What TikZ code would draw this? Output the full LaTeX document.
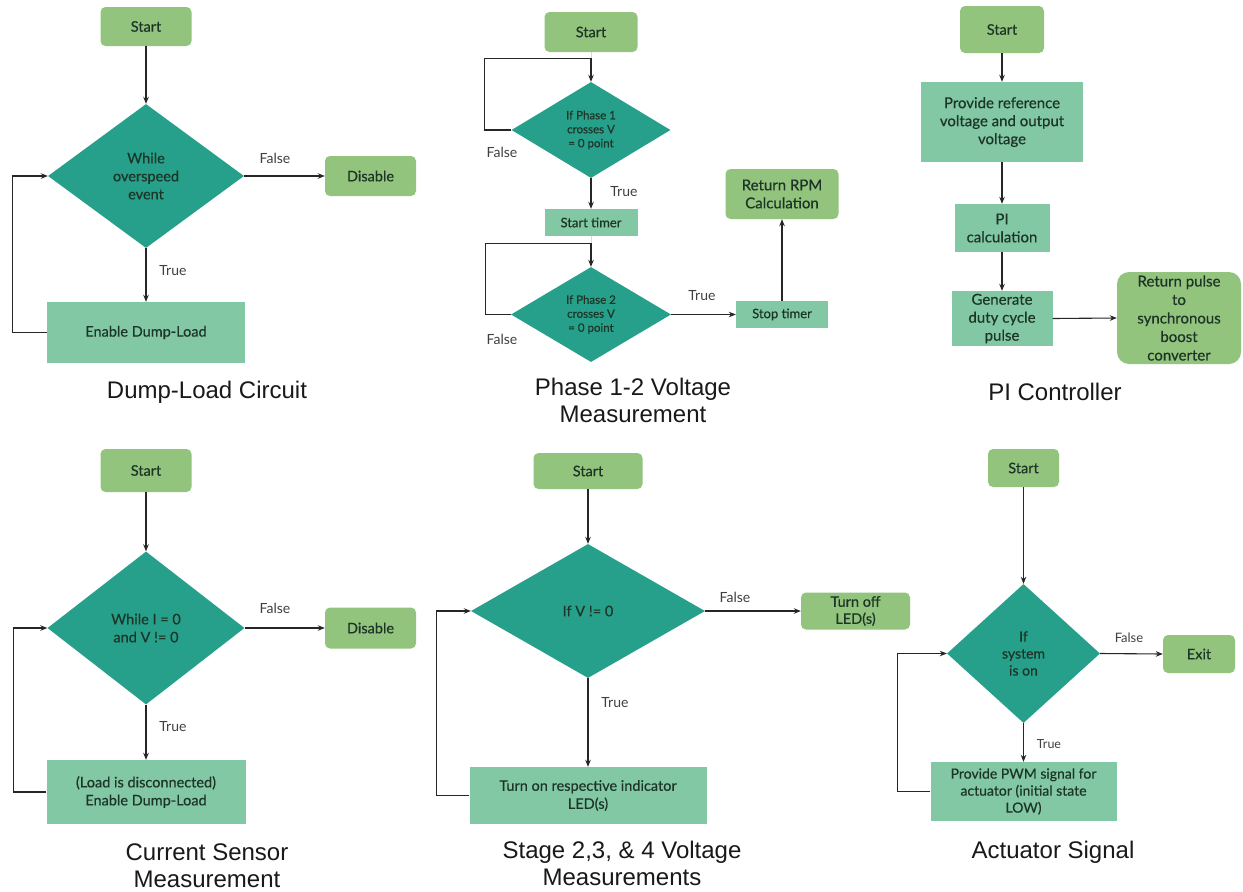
\documentclass[tikz,border=0pt]{standalone}
\usepackage{fontspec}
\setmainfont{Lato}
\newfontfamily\boxfont{Lato}[FakeBold=0.5]
\newfontfamily\titlefont{Liberation Sans}
\usetikzlibrary{shapes.geometric,arrows.meta,calc}
\definecolor{startgreen}{HTML}{93C47D}
\definecolor{decteal}{HTML}{26A08B}
\definecolor{procgreen}{HTML}{82C8A5}
\definecolor{boxtext}{HTML}{1C3526}
\tikzset{
  base/.style={draw=none, text=boxtext, align=center, inner sep=0pt, font=\boxfont\fontsize{14.5}{18}\selectfont},
  term/.style={base, fill=startgreen, rounded corners=5pt},
  proc/.style={base, fill=procgreen},
  dec/.style={base, diamond, fill=decteal},
  arr/.style={-{Stealth[length=7pt,width=5.5pt]}, line width=1.1pt, draw=black!85},
  faint/.style={line width=0.8pt, draw=black!15},
  lbl/.style={font=\fontsize{14}{17}\selectfont, text=black!75, inner sep=0pt},
  ttl/.style={font=\titlefont\fontsize{24}{27}\selectfont, text=black!90, align=center, inner sep=0pt},
}
\begin{document}
\begin{tikzpicture}[x=1pt,y=-1pt]
\useasboundingbox[fill=white] (0,0) rectangle (1243,892);

% ---------- Panel 1: Dump-Load Circuit ----------
\node[term, minimum width=91pt, minimum height=39pt] (s1) at (146,26.5) {Start};
\node[dec, minimum width=196pt, minimum height=144pt] (d1) at (146,176) {While\\overspeed\\event};
\node[term, minimum width=91pt, minimum height=40pt] (dis1) at (370.5,176) {Disable};
\node[proc, minimum width=198pt, minimum height=61pt] (b1) at (146,332.5) {Enable Dump-Load};
\node[lbl] (f1) at (275,158) {False};
\node[lbl] (t1) at (173,271) {True};
\node[ttl] (ti1) at (207,392) {Dump-Load Circuit};
\draw[arr] (s1.south) -- (d1.north);
\draw[arr] (d1.east) -- (dis1.west);
\draw[arr] (d1.south) -- (b1.north);
\draw[arr] (b1.west) -- ++(-34,0) |- (d1.west);

% ---------- Panel 2: Phase 1-2 Voltage Measurement ----------
\node[term, minimum width=93pt, minimum height=40pt] (ps) at (591,32) {Start};
\node[dec, minimum width=159pt, minimum height=96pt, font=\boxfont\fontsize{11.5}{14}\selectfont] (pd1) at (591,130) {If Phase 1\\crosses V\\= 0 point};
\node[proc, minimum width=93pt, minimum height=27pt, font=\boxfont\fontsize{13}{15}\selectfont] (pst) at (591,222.5) {Start timer};
\node[dec, minimum width=160pt, minimum height=95pt, font=\boxfont\fontsize{11.5}{14}\selectfont] (pd2) at (591,314.5) {If Phase 2\\crosses V\\= 0 point};
\node[proc, minimum width=92pt, minimum height=27pt, font=\boxfont\fontsize{13}{15}\selectfont] (pstop) at (782,314.5) {Stop timer};
\node[term, minimum width=113pt, minimum height=50pt, font=\boxfont\fontsize{15}{18}\selectfont] (pret) at (782,194) {Return RPM\\Calculation};
\node[lbl] (pf1) at (502,152) {False};
\node[lbl] (pt1) at (624,192) {True};
\node[lbl] (pf2) at (502,339) {False};
\node[lbl] (pt2) at (702,296) {True};
\node[ttl] (ti2) at (633,400) {Phase 1-2 Voltage\\Measurement};
\draw[faint] (ps.south) -- ++(0,7);
\draw[faint] (pst.south) -- ++(0,8);
\draw[arr] (pd1.west) -- ++(-27,0) |- ([yshift=23pt]pd1.north) -- (pd1.north);
\draw[arr] (pd1.south) -- (pst.north);
\draw[arr] (pd2.west) -- ++(-25,0) |- ([yshift=23pt]pd2.north) -- (pd2.north);
\draw[arr] (pd2.east) -- (pstop.west);
\draw[arr] (pstop.north) -- (pret.south);

% ---------- Panel 3: PI Controller ----------
\node[term, minimum width=84pt, minimum height=47pt] (qs) at (1002,29.5) {Start};
\node[proc, minimum width=162pt, minimum height=80pt, font=\boxfont\fontsize{15}{18}\selectfont] (qp) at (1002,122) {Provide reference\\voltage and output\\voltage};
\node[proc, minimum width=95pt, minimum height=48pt, font=\boxfont\fontsize{15}{18}\selectfont] (qc) at (1002,228) {PI\\calculation};
\node[proc, minimum width=101pt, minimum height=55pt, font=\boxfont\fontsize{15}{18}\selectfont] (qg) at (1002,318.5) {Generate\\duty cycle\\pulse};
\node[term, rounded corners=12pt, minimum width=124pt, minimum height=92pt, font=\boxfont\fontsize{15}{18.5}\selectfont] (qr) at (1179,318) {Return pulse\\to\\synchronous\\boost\\converter};
\node[ttl] (ti3) at (1055,392) {PI Controller};
\draw[arr] (qs.south) -- (qp.north);
\draw[arr] (qp.south) -- (qc.north);
\draw[arr] (qc.south) -- (qg.north);
\draw[arr] (qg.east) -- (qr.west);

% ---------- Panel 4: Current Sensor Measurement ----------
\node[term, minimum width=91pt, minimum height=43pt] (cs) at (146,470.5) {Start};
\node[dec, minimum width=197pt, minimum height=153pt] (cd) at (146,628) {While I = 0\\and V != 0};
\node[term, minimum width=91pt, minimum height=41pt] (cdis) at (370.5,628) {Disable};
\node[proc, minimum width=199pt, minimum height=64pt, font=\boxfont\fontsize{14.5}{18}\selectfont] (cb) at (146,792) {(Load is disconnected)\\Enable Dump-Load};
\node[lbl] (cf) at (275,608) {False};
\node[lbl] (ct) at (173,727) {True};
\node[ttl] (ti4) at (207,866) {Current Sensor\\Measurement};
\draw[arr] (cs.south) -- (cd.north);
\draw[arr] (cd.east) -- (cdis.west);
\draw[arr] (cd.south) -- (cb.north);
\draw[arr] (cb.west) -- ++(-33,0) |- (cd.west);

% ---------- Panel 5: Stage 2,3, & 4 Voltage Measurements ----------
\node[term, minimum width=109pt, minimum height=36pt] (ts) at (588,471) {Start};
\node[dec, minimum width=234pt, minimum height=134pt] (td) at (588,611) {If V != 0};
\node[term, minimum width=109pt, minimum height=37pt, font=\boxfont\fontsize{14.5}{17}\selectfont] (toff) at (855.5,611) {Turn off\\LED(s)};
\node[proc, minimum width=237pt, minimum height=57pt, font=\boxfont\fontsize{14.5}{18}\selectfont] (tb) at (588,795.5) {Turn on respective indicator\\LED(s)};
\node[lbl] (tf) at (735,597) {False};
\node[lbl] (tt) at (615,703) {True};
\node[ttl] (ti5) at (622,863.5) {Stage 2,3, \& 4 Voltage\\Measurements};
\draw[arr] (ts.south) -- (td.north);
\draw[arr] (td.east) -- (toff.west);
\draw[arr] (td.south) -- (tb.north);
\draw[arr] (tb.west) -- ++(-33,0) |- (td.west);

% ---------- Panel 6: Actuator Signal ----------
\node[term, minimum width=71pt, minimum height=38pt] (as) at (1023.5,468) {Start};
\node[dec, minimum width=153pt, minimum height=139pt, font=\boxfont\fontsize{14}{17}\selectfont] (ad) at (1023.5,653.5) {If\\system\\is on};
\node[term, minimum width=72pt, minimum height=38pt] (aexit) at (1199,654) {Exit};
\node[proc, minimum width=186pt, minimum height=59pt, font=\boxfont\fontsize{14}{17}\selectfont] (ab) at (1023.5,791.5) {Provide PWM signal for\\actuator (initial state\\LOW)};
\node[lbl, font=\fontsize{13}{16}\selectfont] (af) at (1129,638) {False};
\node[lbl, font=\fontsize{12.5}{15}\selectfont] (at) at (1049,744) {True};
\node[ttl] (ti6) at (1053,852) {Actuator Signal};
\draw[arr] (as.south) -- (ad.north);
\draw[arr] (ad.east) -- (aexit.west);
\draw[arr] (ad.south) -- (ab.north);
\draw[arr] (ab.west) -- ++(-33,0) |- (ad.west);
\end{tikzpicture}
\end{document}
